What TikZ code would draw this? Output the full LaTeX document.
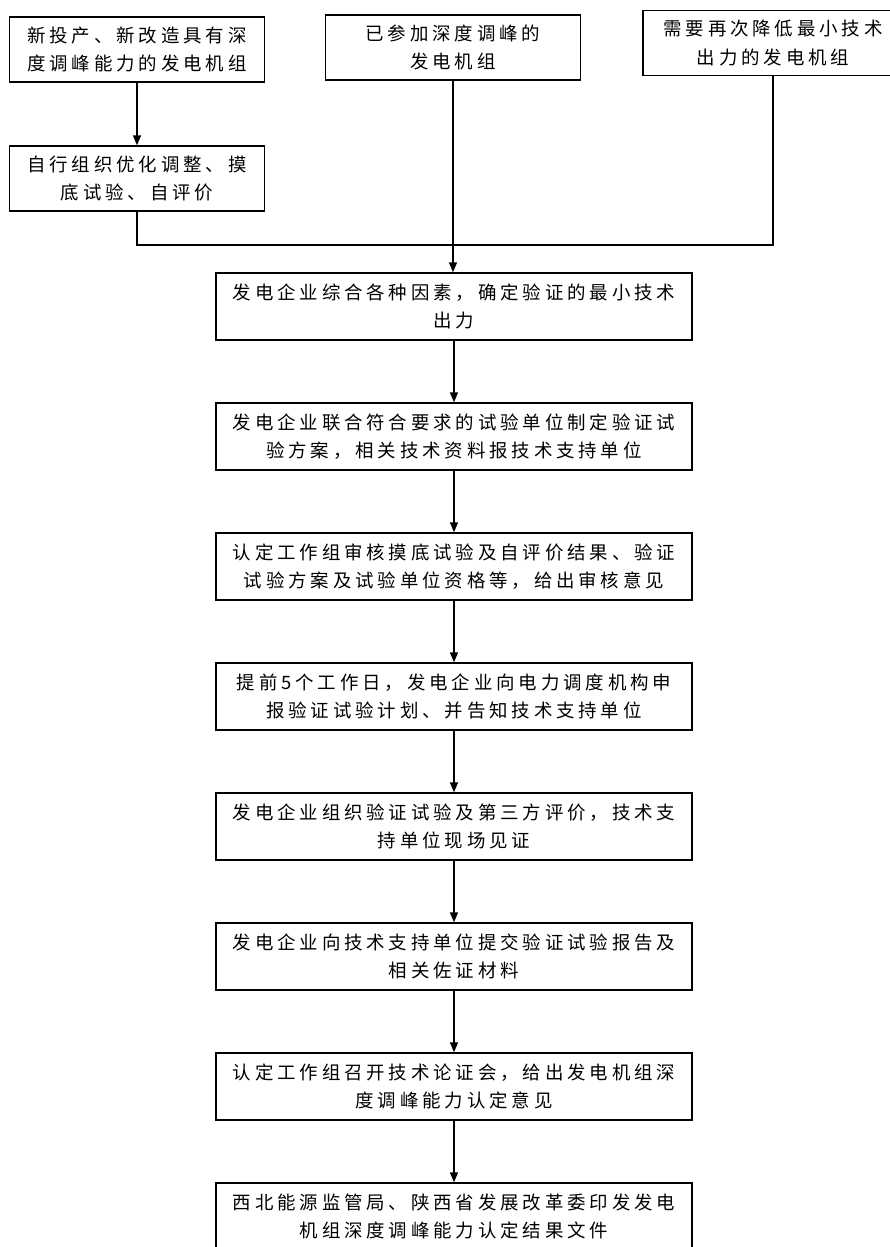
\documentclass[tikz,border=0pt]{standalone}
\usepackage{fontspec}
\usepackage{tikz}
\usetikzlibrary{arrows.meta}
\newfontfamily\cjk{Noto Sans CJK SC}
% even spacing between the characters
\XeTeXinterchartokenstate=1
\XeTeXinterchartoks 0 0 = {\kern2.2pt}
\XeTeXinterchartoks 0 1 = {\kern2.2pt}
\XeTeXinterchartoks 1 0 = {\kern2.2pt}
\XeTeXinterchartoks 1 1 = {\kern2.2pt}
\XeTeXinterchartoks 1 2 = {\kern2.2pt}
\XeTeXinterchartoks 1 3 = {\kern2.2pt}
\XeTeXinterchartoks 3 1 = {\kern2.2pt}
\XeTeXinterchartoks 2 1 = {\kern2.2pt}
\XeTeXinterchartoks 3 0 = {\kern2.2pt}
\XeTeXinterchartoks 0 3 = {\kern2.2pt}

\tikzset{
  box/.style={draw, line width=0.8pt, align=center, inner sep=0pt,
    font=\cjk\fontsize{10.5pt}{16pt}\selectfont},
  topbox/.style={box, minimum width=5.1cm, minimum height=1.3cm},
  mainbox/.style={box, minimum width=9.52cm, minimum height=1.34cm},
  arr/.style={line width=0.8pt, -{Triangle[length=2mm,width=1.6mm]}},
  link/.style={line width=0.8pt}
}

\begin{document}
\begin{tikzpicture}[x=0.02cm, y=-0.02cm]
	\useasboundingbox (0,0) rectangle (889,1247);
	% Top row
	\node[topbox] (new) at (137,49.5) {新投产、新改造具有深\\度调峰能力的发电机组};
	\node[topbox] (joined) at (453,47.5) {已参加深度调峰的\\发电机组};
	\node[topbox, minimum width=5.2cm] (lower) at (773,43) {需要再次降低最小技术\\出力的发电机组};
	\node[topbox] (selftest) at (137,178.5) {自行组织优化调整、摸\\底试验、自评价};
	
	% Main chain
	\node[mainbox] (s1) at (454,306.5) {发电企业综合各种因素，确定验证的最小技术\\出力};
	\node[mainbox] (s2) at (454,436.5) {发电企业联合符合要求的试验单位制定验证试\\验方案，相关技术资料报技术支持单位};
	\node[mainbox] (s3) at (454,566.5) {认定工作组审核摸底试验及自评价结果、验证\\试验方案及试验单位资格等，给出审核意见};
	\node[mainbox] (s4) at (454,696.5) {提前5个工作日，发电企业向电力调度机构申\\报验证试验计划、并告知技术支持单位};
	\node[mainbox] (s5) at (454,826.5) {发电企业组织验证试验及第三方评价，技术支\\持单位现场见证};
	\node[mainbox] (s6) at (454,956.5) {发电企业向技术支持单位提交验证试验报告及\\相关佐证材料};
	\node[mainbox] (s7) at (454,1086.5) {认定工作组召开技术论证会，给出发电机组深\\度调峰能力认定意见};
	\node[mainbox] (s8) at (454,1216.5) {西北能源监管局、陕西省发展改革委印发发电\\机组深度调峰能力认定结果文件};
	
	% Connectors
	\coordinate (join) at (454,245);
	\draw[arr] (new) -- (selftest);
	\draw[link] (selftest.south) |- (join) -| (lower.south);
	\draw[arr] (joined.south) -- (joined.south |- s1.north);
	\draw[arr] (s1) -- (s2);
	\draw[arr] (s2) -- (s3);
	\draw[arr] (s3) -- (s4);
	\draw[arr] (s4) -- (s5);
	\draw[arr] (s5) -- (s6);
	\draw[arr] (s6) -- (s7);
	\draw[arr] (s7) -- (s8);
\end{tikzpicture}
\end{document}
